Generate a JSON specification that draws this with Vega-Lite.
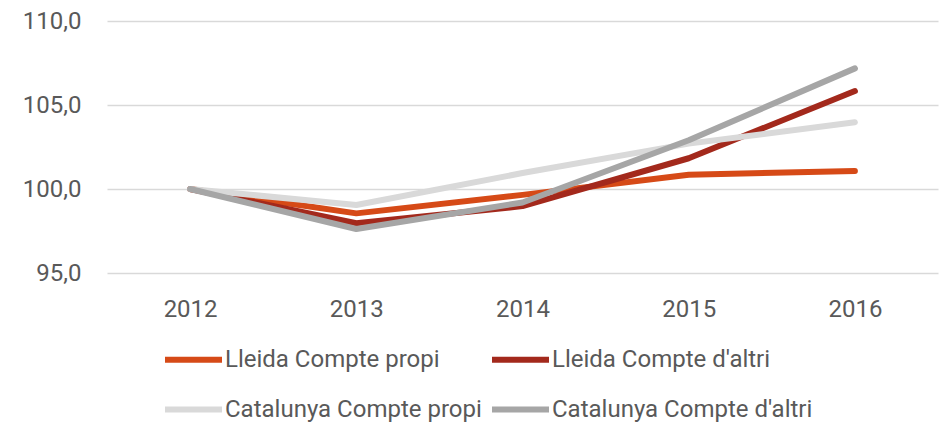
{
  "$schema": "https://vega.github.io/schema/vega-lite/v6.json",
  "width": 831,
  "height": 252,
  "autosize": {"type": "none"},
  "padding": {"left": 107, "top": 21, "right": 10, "bottom": 151},
  "background": "white",
  "data": {
    "values": [
      {"year": "2012", "serie": "Lleida Compte propi", "v": 100.0},
      {"year": "2013", "serie": "Lleida Compte propi", "v": 98.55},
      {"year": "2014", "serie": "Lleida Compte propi", "v": 99.65},
      {"year": "2015", "serie": "Lleida Compte propi", "v": 100.85},
      {"year": "2016", "serie": "Lleida Compte propi", "v": 101.07},
      {"year": "2012", "serie": "Lleida Compte d'altri", "v": 100.0},
      {"year": "2013", "serie": "Lleida Compte d'altri", "v": 97.96},
      {"year": "2014", "serie": "Lleida Compte d'altri", "v": 98.98},
      {"year": "2015", "serie": "Lleida Compte d'altri", "v": 101.83},
      {"year": "2016", "serie": "Lleida Compte d'altri", "v": 105.83},
      {"year": "2012", "serie": "Catalunya Compte propi", "v": 100.0},
      {"year": "2013", "serie": "Catalunya Compte propi", "v": 99.05},
      {"year": "2014", "serie": "Catalunya Compte propi", "v": 100.95},
      {"year": "2015", "serie": "Catalunya Compte propi", "v": 102.7},
      {"year": "2016", "serie": "Catalunya Compte propi", "v": 103.97},
      {"year": "2012", "serie": "Catalunya Compte d'altri", "v": 100.0},
      {"year": "2013", "serie": "Catalunya Compte d'altri", "v": 97.62},
      {"year": "2014", "serie": "Catalunya Compte d'altri", "v": 99.2},
      {"year": "2015", "serie": "Catalunya Compte d'altri", "v": 102.9},
      {"year": "2016", "serie": "Catalunya Compte d'altri", "v": 107.18}
    ]
  },
  "mark": {"type": "line", "strokeWidth": 6, "strokeCap": "round", "strokeJoin": "round"},
  "encoding": {
    "x": {
      "field": "year",
      "type": "ordinal",
      "scale": {"type": "point", "padding": 0.5},
      "axis": {
        "title": null,
        "labelAngle": 0,
        "domain": false,
        "ticks": false,
        "grid": false,
        "labelPadding": 24,
        "labelFont": "Roboto",
        "labelFontSize": 24,
        "labelColor": "#595959"
      }
    },
    "y": {
      "field": "v",
      "type": "quantitative",
      "scale": {"domain": [95, 110], "nice": false, "zero": false},
      "axis": {
        "title": null,
        "values": [95, 100, 105, 110],
        "labelExpr": "replace(format(datum.value, '.1f'), '.', ',')",
        "domain": false,
        "ticks": false,
        "labelPadding": 26,
        "labelFont": "Roboto",
        "labelFontSize": 24,
        "labelColor": "#595959",
        "gridColor": "#D9D9D9",
        "gridWidth": 1.5
      }
    },
    "color": {
      "field": "serie",
      "type": "nominal",
      "scale": {
        "domain": ["Lleida Compte propi", "Lleida Compte d'altri", "Catalunya Compte propi", "Catalunya Compte d'altri"],
        "range": ["#D64A17", "#A3291C", "#D9D9D9", "#A6A6A6"]
      },
      "legend": {
        "title": null,
        "orient": "none",
        "legendX": 55,
        "legendY": 307,
        "direction": "horizontal",
        "columns": 2,
        "symbolType": "stroke",
        "symbolSize": 3249,
        "symbolStrokeWidth": 6,
        "labelOffset": 0,
        "columnPadding": -2,
        "rowPadding": 6,
        "labelFont": "Roboto",
        "labelFontSize": 24,
        "labelColor": "#595959",
        "labelLimit": 400
      }
    }
  },
  "config": {"view": {"stroke": null}}
}
